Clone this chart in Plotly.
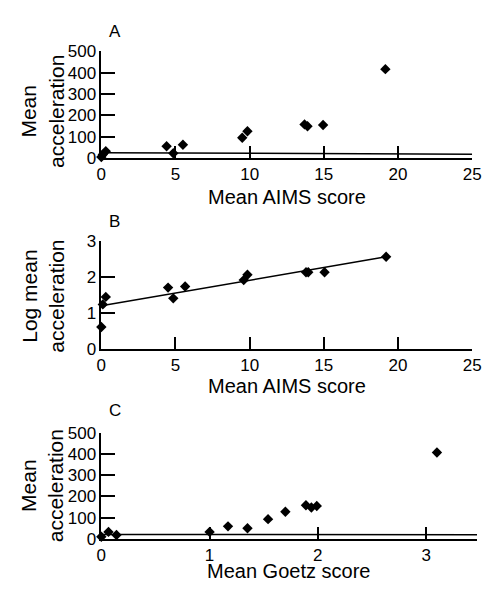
import plotly.graph_objects as go

# page is 494x598; the browser body keeps its default 8px margin
PAGE_W, PAGE_H, OFF = 494, 598, 8
W, H = PAGE_W - 2 * OFF, PAGE_H - 2 * OFF

# ---- data ----
aims_a = [0.0, 0.1, 0.3, 4.4, 4.85, 5.5, 9.5, 9.85, 13.7, 13.9, 14.95, 19.15]
acc_a = [6, 17, 33, 56, 23, 63, 96, 126, 158, 149, 155, 416]
fit_a_x = [0, 25]
fit_a_y = [26, 19]

aims_b = [0.0, 0.1, 0.3, 4.5, 4.85, 5.65, 9.6, 9.85, 13.8, 13.95, 15.05, 19.2]
logacc_b = [0.61, 1.24, 1.45, 1.71, 1.41, 1.74, 1.92, 2.07, 2.14, 2.14, 2.14, 2.57]
fit_b_x = [0, 19.2]
fit_b_y = [1.2, 2.57]

goetz_c = [0.0, 0.066, 0.14, 1.0, 1.17, 1.35, 1.54, 1.70, 1.89, 1.94, 1.99, 3.10]
acc_c = [10, 33, 18, 33, 59, 50, 93, 128, 158, 148, 155, 407]
fit_c_x = [0, 3.47]
fit_c_y = [21, 19]

ticks_acc = [0, 100, 200, 300, 400, 500]
ticks_log = [0, 1, 2, 3]
ticks_aims = [0, 5, 10, 15, 20, 25]
ticks_goetz = [0, 1, 2, 3]

FONT = "Liberation Sans, Arial, sans-serif"


def px(x):
    return min(max((x - OFF) / W, 0), 1)


def py(y):
    return min(max(1 - (y - OFF) / H, 0), 1)


fig = go.Figure()

panels = [
    (aims_a, acc_a, fit_a_x, fit_a_y, "x", "y"),
    (aims_b, logacc_b, fit_b_x, fit_b_y, "x2", "y2"),
    (goetz_c, acc_c, fit_c_x, fit_c_y, "x3", "y3"),
]
for xs, ys, fx, fy, xa, ya in panels:
    fig.add_trace(go.Scatter(x=fx, y=fy, mode="lines", xaxis=xa, yaxis=ya,
                             line=dict(color="black", width=1.5), cliponaxis=False,
                             showlegend=False))
    fig.add_trace(go.Scatter(x=xs, y=ys, mode="markers", xaxis=xa, yaxis=ya,
                             marker=dict(symbol="diamond", size=8, color="black"),
                             cliponaxis=False, showlegend=False))

common_x = dict(showgrid=False, zeroline=False, showline=True, linecolor="black",
                linewidth=1.5, ticks="inside", ticklen=12, tickwidth=1.5,
                ticklabeloverflow="allow",
                tickcolor="black", tickfont=dict(family=FONT, size=17, color="black"))
common_y = dict(showgrid=False, zeroline=False, showline=True, linecolor="black",
                linewidth=1.5, ticks="inside", ticklen=14, tickwidth=1.5,
                tickcolor="black", tickfont=dict(family=FONT, size=17, color="black"))

layout = dict(
    width=W, height=H, margin=dict(l=0, r=0, t=0, b=0),
    paper_bgcolor="white", plot_bgcolor="white", showlegend=False,
    xaxis=dict(common_x, domain=[px(99), px(481)], range=[0, 25], tickvals=ticks_aims,
               anchor="y"),
    yaxis=dict(common_y, domain=[py(154), py(43.3)], range=[0, 500], tickvals=ticks_acc,
               anchor="x"),
    xaxis2=dict(common_x, domain=[px(99), px(481)], range=[0, 25], tickvals=ticks_aims,
                anchor="y2"),
    yaxis2=dict(common_y, domain=[py(351), py(240)], range=[0, 3], tickvals=ticks_log,
                anchor="x2"),
    xaxis3=dict(common_x, domain=[px(99), px(486)], range=[0, 3.47], tickvals=ticks_goetz,
                anchor="y3"),
    yaxis3=dict(common_y, domain=[py(547.5), py(437.7)], range=[0, 500], tickvals=ticks_acc,
                anchor="x3"),
)
fig.update_layout(**layout)

ann = []
def text(x, y, s, size, angle=0):
    ann.append(dict(x=px(x), y=py(y), xref="paper", yref="paper", text=s,
                    showarrow=False, textangle=angle, xanchor="center", yanchor="middle",
                    font=dict(family=FONT, size=size, color="black")))

text(113, 23, "A", 17)
text(113, 219, "B", 17)
text(113, 415, "C", 17)
text(290, 194, "Mean AIMS score", 20)
text(290, 389, "Mean AIMS score", 20)
text(292, 581, "Mean Goetz score", 20)
text(38, 106, "Mean<br>acceleration", 21, -90)
text(38, 297, "Log mean<br>acceleration", 21, -90)
text(38, 493, "Mean<br>acceleration", 21, -90)
fig.update_layout(annotations=ann)

fig.write_html("out.html", config={"displayModeBar": False})
